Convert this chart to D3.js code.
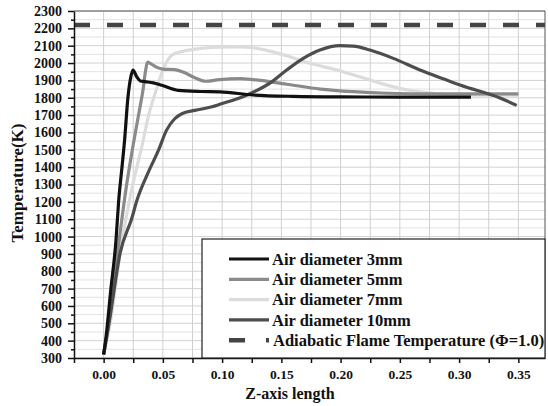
<!DOCTYPE html>
<html>
<head>
<meta charset="utf-8">
<script src="https://cdn.jsdelivr.net/npm/d3@7"></script>
<style>
    body { margin: 0; background: #fff; }
    svg { display: block; }
</style>
</head>
<body>
<div id="chart"></div>
<script>
// Values
var legendLabels = [
    "Air diameter 3mm",
    "Air diameter 5mm",
    "Air diameter 7mm",
    "Air diameter 10mm",
    "Adiabatic Flame Temperature (\u03A6=1.0)"
];
var colours = ["#111111", "#8a8a8a", "#dcdcdc", "#4d4d4d", "#444444"];

var z3mm = [0, 0.002, 0.006, 0.0104, 0.0127, 0.0155, 0.0177, 0.0205, 0.0228, 0.0248, 0.028, 0.031, 0.035, 0.042, 0.049, 0.063, 0.082, 0.098, 0.126, 0.16, 0.2, 0.25, 0.31];
var t3mm = [320, 420, 690, 975, 1206, 1400, 1556, 1800, 1915, 1960, 1920, 1897, 1893, 1886, 1872, 1842, 1836, 1834, 1816, 1808, 1805, 1804, 1804];

var z5mm = [0, 0.004, 0.009, 0.0135, 0.019, 0.025, 0.03, 0.0332, 0.0355, 0.0371, 0.04, 0.045, 0.05, 0.06, 0.068, 0.077, 0.086, 0.098, 0.115, 0.126, 0.1545, 0.183, 0.211, 0.239, 0.28, 0.35];
var t5mm = [320, 480, 760, 1000, 1280, 1530, 1720, 1843, 1960, 2005, 1995, 1975, 1965, 1962, 1945, 1915, 1895, 1905, 1910, 1905, 1878, 1850, 1835, 1826, 1822, 1822];

var z7mm = [0, 0.005, 0.0155, 0.024, 0.0326, 0.038, 0.0444, 0.05, 0.0577, 0.065, 0.077, 0.098, 0.115, 0.126, 0.14, 0.1545, 0.174, 0.197, 0.216, 0.239, 0.256, 0.278, 0.295, 0.32, 0.35];
var t7mm = [320, 480, 975, 1280, 1530, 1700, 1845, 1960, 2046, 2065, 2080, 2092, 2093, 2088, 2069, 2042, 1999, 1960, 1921, 1873, 1845, 1826, 1816, 1815, 1815];

var z10mm = [0, 0.005, 0.014, 0.024, 0.028, 0.037, 0.0464, 0.053, 0.06, 0.066, 0.077, 0.0914, 0.098, 0.121, 0.14, 0.1545, 0.1685, 0.1826, 0.1995, 0.2107, 0.2248, 0.2445, 0.267, 0.2895, 0.3008, 0.334, 0.3486];
var t10mm = [320, 520, 907, 1110, 1206, 1360, 1499, 1612, 1679, 1708, 1727, 1748, 1762, 1816, 1883, 1960, 2027, 2075, 2100, 2098, 2075, 2027, 1960, 1902, 1873, 1800, 1756];

var adiabaticT = 2220;

var xTicks = [0, 0.05, 0.1, 0.15, 0.2, 0.25, 0.3, 0.35];
var xMinorTicks = [-0.025, 0.025, 0.075, 0.125, 0.175, 0.225, 0.275, 0.325];
var yTicks = d3.range(300, 2301, 100);
var yMinorTicks = d3.range(350, 2300, 100);

var W = 548, H = 406;
var margin = {top: 11, right: 3, bottom: 48, left: 74};
var w = W - margin.left - margin.right,
    h = H - margin.top - margin.bottom;
var serif = "'Liberation Serif'";

var svg = d3.select("#chart").append("svg")
    .attr("width", W)
    .attr("height", H);

var g = svg.append("g")
    .attr("transform", "translate(" + margin.left + "," + margin.top + ")");

var x = d3.scaleLinear().domain([-0.025, 0.3725]).range([0, w]);
var y = d3.scaleLinear().domain([300, 2300]).range([h, 0]);

g.append("rect").attr("width", w).attr("height", h).attr("fill", "#fff");

// grid
var yGrid = d3.range(300, 2301, 50);
g.selectAll("line.hgrid").data(yGrid).enter().append("line")
    .attr("class", "hgrid")
    .attr("x1", 0).attr("x2", w)
    .attr("y1", function(d) { return y(d); })
    .attr("y2", function(d) { return y(d); })
    .attr("stroke", function(d) { return d % 100 === 0 ? "#d2d2d2" : "#e2e2e2"; })
    .attr("stroke-width", 1);

var xGrid = xTicks.concat(xMinorTicks.slice(1));
g.selectAll("line.vgrid").data(xGrid).enter().append("line")
    .attr("class", "vgrid")
    .attr("y1", 0).attr("y2", h)
    .attr("x1", function(d) { return x(d); })
    .attr("x2", function(d) { return x(d); })
    .attr("stroke", "#cfcfcf")
    .attr("stroke-width", 1);

// adiabatic flame temperature
g.append("line")
    .attr("x1", 0).attr("x2", w)
    .attr("y1", y(adiabaticT)).attr("y2", y(adiabaticT))
    .attr("stroke", colours[4])
    .attr("stroke-width", 4.5)
    .attr("stroke-dasharray", "16,17");

// curves
var series = [
    {z: z3mm, t: t3mm},
    {z: z5mm, t: t5mm},
    {z: z7mm, t: t7mm},
    {z: z10mm, t: t10mm}
];
var line = d3.line()
    .x(function(d) { return x(d[0]); })
    .y(function(d) { return y(d[1]); })
    .curve(d3.curveMonotoneX);

// draw in order so darker lines sit on top like the picture
[2, 1, 3, 0].forEach(function(i) {
    var pts = d3.zip(series[i].z, series[i].t);
    g.append("path")
        .datum(pts)
        .attr("d", line)
        .attr("fill", "none")
        .attr("stroke", colours[i])
        .attr("stroke-width", 3.2)
        .attr("stroke-linejoin", "round");
});

// legend
var lg = svg.append("g").attr("transform", "translate(202,239)");
lg.append("rect")
    .attr("width", 545 - 202).attr("height", 358 - 239)
    .attr("fill", "#fff")
    .attr("stroke", "#222")
    .attr("stroke-width", 1.2);

var rows = lg.selectAll("g.row").data(legendLabels).enter().append("g")
    .attr("class", "row")
    .attr("transform", function(d, i) { return "translate(0," + (20 + i * 20.3) + ")"; });

rows.append("line")
    .attr("x1", 27).attr("x2", 67)
    .attr("stroke", function(d, i) { return colours[i]; })
    .attr("stroke-width", function(d, i) { return i === 4 ? 4.5 : 3.2; })
    .attr("stroke-dasharray", function(d, i) { return i === 4 ? "16,21,5" : null; });

rows.append("text")
    .attr("x", function(d, i) { return i === 4 ? 71 : 70; })
    .attr("dy", "0.35em")
    .style("font-family", serif)
    .style("font-weight", "bold")
    .style("font-size", "16.5px")
    .attr("fill", "#111")
    .text(function(d) { return d; });

// axes
var yAxis = d3.axisLeft(y).tickValues(yTicks).tickFormat(d3.format("d")).tickSize(6).tickSizeOuter(0).tickPadding(6);
var yMinor = d3.axisLeft(y).tickValues(yMinorTicks).tickSize(3).tickFormat("");
var xAxis = d3.axisBottom(x).tickValues(xTicks).tickFormat(d3.format(".2f")).tickSize(5).tickSizeOuter(0).tickPadding(6.5);
var xMinor = d3.axisBottom(x).tickValues(xMinorTicks).tickSize(5).tickFormat("");

var gy = g.append("g").call(yAxis);
g.append("g").call(yMinor).select(".domain").remove();
var gx = g.append("g").attr("transform", "translate(0," + h + ")").call(xAxis);
g.append("g").attr("transform", "translate(0," + h + ")").call(xMinor).select(".domain").remove();

gy.selectAll(".tick text").style("font-size", "14px");
gx.selectAll(".tick text").style("font-size", "13.5px");
svg.selectAll(".tick text")
    .style("font-family", serif)
    .style("font-weight", "bold")
    .attr("fill", "#111");
svg.selectAll(".domain, .tick line").attr("stroke", "#111").attr("stroke-width", 1.5);

// frame on top and right
g.append("path")
    .attr("d", "M0,0H" + w + "V" + h)
    .attr("fill", "none")
    .attr("stroke", "#555")
    .attr("stroke-width", 1);

// titles
svg.append("text")
    .attr("transform", "translate(23,183) rotate(-90)")
    .attr("text-anchor", "middle")
    .style("font-family", serif)
    .style("font-weight", "bold")
    .style("font-size", "17px")
    .attr("fill", "#111")
    .text("Temperature(K)");

svg.append("text")
    .attr("x", 290).attr("y", 399)
    .attr("text-anchor", "middle")
    .style("font-family", serif)
    .style("font-weight", "bold")
    .style("font-size", "16px")
    .attr("fill", "#111")
    .text("Z-axis length");
</script>
</body>
</html>
